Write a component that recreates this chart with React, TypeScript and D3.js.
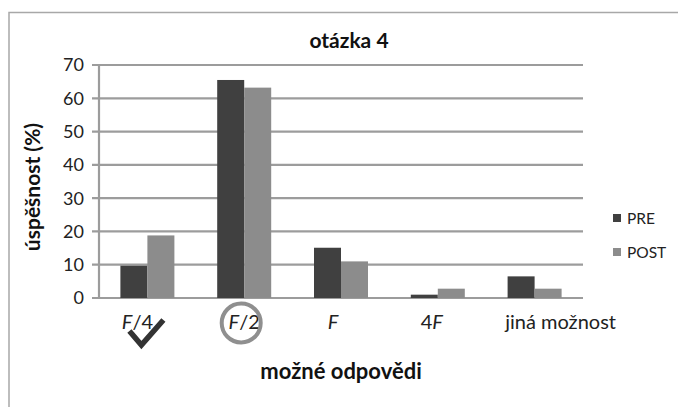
import React, { useRef, useEffect } from "react";
import * as d3 from "d3";

const categories = ["F/4", "F/2", "F", "4F", "jiná možnost"];
const preValues = [9.7, 65.5, 15.1, 1.0, 6.5];
const postValues = [18.8, 63.2, 11.0, 2.8, 2.8];
const series = ["PRE", "POST"];
const yTicks = [0, 10, 20, 30, 40, 50, 60, 70];

const colors = ["#404040", "#8c8c8c"];
const labelShift = [-10, 0, -8, -6, 26];
const FONT = "Lato, 'Open Sans', sans-serif";

export default function App() {
  const svgRef = useRef<SVGSVGElement>(null);

  useEffect(() => {
    const svg = d3.select(svgRef.current);
    svg.selectAll("*").remove();

    const margin = { left: 99, right: 95, top: 65, bottom: 109 };
    const W = 678, H = 407;
    const w = W - margin.left - margin.right;
    const h = H - margin.top - margin.bottom;

    // frame (cropped on right and bottom)
    svg.append("path")
      .attr("d", `M9,${H + 2} V12.5 H${W + 2}`)
      .attr("fill", "none").attr("stroke", "#a8a8a8").attr("stroke-width", 1.5);

    const g = svg.append("g").attr("transform", `translate(${margin.left},${margin.top})`);

    const x = d3.scaleBand().domain(categories).range([0, w]);
    const x1 = d3.scaleBand().domain(series).range([0, 54]);
    const y = d3.scaleLinear().domain([0, 70]).range([h, 0]);

    // gridlines + ticks
    g.selectAll(".grid").data(yTicks).enter().append("line")
      .attr("x1", -7).attr("x2", w)
      .attr("y1", d => y(d)).attr("y2", d => y(d))
      .attr("stroke", "#9c9c9c").attr("stroke-width", 2.2);

    g.append("line").attr("x1", 0).attr("x2", 0).attr("y1", 0).attr("y2", h)
      .attr("stroke", "#9c9c9c").attr("stroke-width", 2.2);

    g.selectAll(".ylab").data(yTicks).enter().append("text")
      .attr("x", -15).attr("y", d => y(d)).attr("dy", "0.36em")
      .attr("text-anchor", "end").attr("font-family", FONT).attr("font-size", 18)
      .attr("fill", "#222").text(d => d);

    // bars
    const data = [preValues, postValues];
    categories.forEach((c, i) => {
      const cx = (x(c) as number) + x.bandwidth() / 2 - 27;
      series.forEach((s, j) => {
        g.append("rect")
          .attr("x", cx + (x1(s) as number))
          .attr("width", x1.bandwidth())
          .attr("y", y(data[j][i]))
          .attr("height", h - y(data[j][i]))
          .attr("fill", colors[j]);
      });
    });

    // category labels
    const labels = g.selectAll(".xl").data(categories).enter().append("text")
      .attr("x", (d, i) => (x(d) as number) + x.bandwidth() / 2 + labelShift[i])
      .attr("y", h + 31)
      .attr("text-anchor", "middle").attr("font-family", FONT).attr("font-size", 20)
      .attr("fill", "#222");
    labels.each(function (d) {
      const t = d3.select(this);
      if (d === "jiná možnost") { t.text(d); return; }
      d.split(/(F)/).filter(p => p).forEach(p => {
        t.append("tspan").attr("font-style", p === "F" ? "italic" : "normal").text(p);
      });
    });

    // checkmark under F/4 and circle around F/2
    const c0 = (x(categories[0]) as number) + x.bandwidth() / 2;
    g.append("path")
      .attr("d", `M${c0 - 18},${h + 33} L${c0 - 6},${h + 47} L${c0 + 16},${h + 22}`)
      .attr("fill", "none").attr("stroke", "#333").attr("stroke-width", 5.5)
      .attr("stroke-linejoin", "miter");
    const c1 = (x(categories[1]) as number) + x.bandwidth() / 2;
    g.append("circle").attr("cx", c1 - 3).attr("cy", h + 25).attr("r", 19.5)
      .attr("fill", "none").attr("stroke", "#8f8f8f").attr("stroke-width", 4);

    // titles
    svg.append("text").attr("x", 349).attr("y", 48).attr("text-anchor", "middle")
      .attr("font-family", FONT).attr("font-weight", "bold").attr("font-size", 21)
      .attr("fill", "#111").text("otázka 4");
    svg.append("text").attr("x", 341).attr("y", 379).attr("text-anchor", "middle")
      .attr("font-family", FONT).attr("font-weight", "bold").attr("font-size", 22)
      .attr("fill", "#111").text("možné odpovědi");
    svg.append("text").attr("transform", "translate(40,187) rotate(-90)")
      .attr("text-anchor", "middle")
      .attr("font-family", FONT).attr("font-weight", "bold").attr("font-size", 21)
      .attr("fill", "#111").text("úspěšnost (%)");

    // legend
    series.forEach((s, j) => {
      const ly = 218 + j * 34;
      svg.append("rect").attr("x", 613).attr("y", ly - 4).attr("width", 8).attr("height", 8)
        .attr("fill", colors[j]);
      svg.append("text").attr("x", 627).attr("y", ly).attr("dy", "0.36em")
        .attr("font-family", FONT).attr("font-size", 15.5).attr("fill", "#222").text(s);
    });
  }, []);

  return (
    <svg ref={svgRef} width={678} height={407}
      style={{ position: "absolute", left: 0, top: 0, background: "#fff" }} />
  );
}
